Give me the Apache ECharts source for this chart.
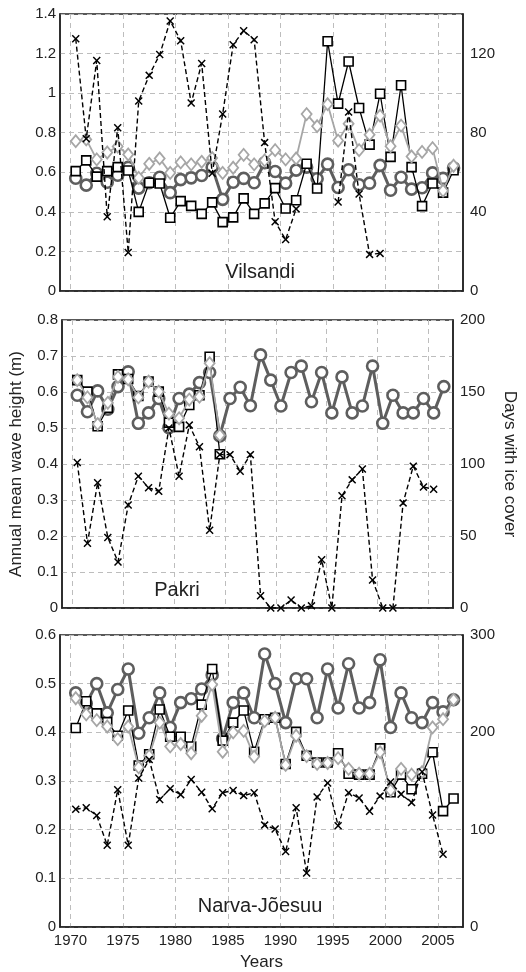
<!DOCTYPE html>
<html>
<head>
<meta charset="utf-8">
<script src="https://cdn.jsdelivr.net/npm/echarts@6/dist/echarts.min.js"></script>
<style>
html,body{margin:0;padding:0;background:#fff;}
#chart{width:526px;height:972px;}
</style>
</head>
<body>
<div id="chart"></div>
<script>
// ---------- data ----------
var years = [1970,1971,1972,1973,1974,1975,1976,1977,1978,1979,1980,1981,1982,1983,1984,1985,1986,1987,1988,1989,1990,1991,1992,1993,1994,1995,1996,1997,1998,1999,2000,2001,2002,2003,2004,2005,2006];
var yearTicks = [1970,1975,1980,1985,1990,1995,2000,2005];

var stationNames = ["Vilsandi","Pakri","Narva-Jõesuu"];

// Vilsandi
var vilCircle  = [0.57,0.535,0.595,0.55,0.585,0.625,0.52,0.547,0.575,0.497,0.563,0.572,0.584,0.626,0.463,0.55,0.569,0.547,0.648,0.604,0.545,0.611,0.626,0.567,0.641,0.523,0.613,0.537,0.545,0.635,0.509,0.575,0.515,0.522,0.597,0.569,0.622];
var vilSquare  = [0.606,0.66,0.578,0.606,0.626,0.609,0.40,0.547,0.543,0.37,0.454,0.43,0.39,0.448,0.348,0.372,0.468,0.39,0.443,0.52,0.417,0.459,0.643,0.518,1.262,0.947,1.16,0.925,0.74,0.997,0.678,1.04,0.626,0.429,0.543,0.497,0.61];
var vilDiamond = [0.757,0.766,0.665,0.70,0.73,0.69,0.572,0.643,0.67,0.597,0.65,0.64,0.653,0.672,0.597,0.623,0.688,0.64,0.66,0.712,0.665,0.67,0.894,0.833,0.944,0.76,0.845,0.712,0.79,0.886,0.732,0.836,0.68,0.703,0.722,0.507,0.633];
var vilIce     = [127.5,77,116.5,37.5,82.5,19.5,96,109,119.5,136.5,126.5,95,115,59.5,89.5,124.5,131.5,127,75,35,26,41.5,null,null,null,45,90.5,49,18.5,19,null,null,null,null,null,null,null];

// Pakri
var pakCircle  = [0.591,0.545,0.603,0.552,0.615,0.656,0.513,0.542,0.582,0.501,0.582,0.594,0.626,0.654,0.478,0.582,0.613,0.562,0.703,0.633,0.561,0.654,0.672,0.573,0.654,0.542,0.642,0.542,0.561,0.672,0.513,0.591,0.542,0.542,0.582,0.542,0.615];
var pakSquare  = [0.633,0.601,0.505,0.556,0.649,0.636,0.589,0.629,0.601,0.515,0.503,0.564,0.591,0.698,0.427,null,null,null,null,null,null,null,null,null,null,null,null,null,null,null,null,null,null,null,null,null,null];
var pakDiamond = [0.633,0.585,0.511,0.57,0.642,0.635,0.585,0.629,0.601,0.54,0.527,0.579,0.587,0.68,0.48,null,null,null,null,null,null,null,null,null,null,null,null,null,null,null,null,null,null,null,null,null,null];
var pakIce     = [101,45,87,49,32,71.5,91.5,83.5,81,125,91.5,127,112,54,106.5,106.5,95,106.5,8.5,0,0,5.5,0,1.5,33.5,0,78,89,96.5,19.5,0,0,73,98.5,84,82.5,null];

// Narva-Jõesuu
var narCircle  = [0.481,0.459,0.5,0.44,0.488,0.53,0.398,0.43,0.481,0.41,0.461,0.469,0.489,0.518,0.387,0.461,0.481,0.43,0.561,0.5,0.42,0.51,0.51,0.43,0.53,0.45,0.541,0.45,0.461,0.549,0.41,0.481,0.43,0.42,0.461,0.442,0.467];
var narSquare  = [0.409,0.464,0.439,0.421,0.393,0.445,0.332,0.355,0.447,0.391,0.391,0.371,0.457,0.53,0.383,0.42,0.445,0.36,0.427,0.43,0.335,0.401,0.352,0.338,0.338,0.357,0.315,0.313,0.313,0.367,0.277,0.313,0.283,0.315,0.359,0.238,0.264];
var narDiamond = [0.47,0.437,0.425,0.412,0.386,0.412,0.328,0.352,0.42,0.371,0.376,0.357,0.434,0.498,0.36,0.4,0.403,0.35,0.423,0.43,0.333,0.393,0.351,0.335,0.337,0.347,0.325,0.315,0.315,0.359,0.281,0.325,0.313,0.318,0.41,0.427,0.467];
var narIce     = [121,122.5,114.5,84,141,84,153,172,131,142,136,151.5,138.5,121.5,138,140.3,135,138,104.7,100.6,77.5,122.5,55.4,133.5,148,104,138,132.5,119,134.5,149,136.5,127.8,159.5,115,74.8,null];

// axis ranges per panel
var leftMax   = [1.4, 0.8, 0.6];
var leftStep  = [0.2, 0.1, 0.1];
var rightMax  = [140, 200, 300];
var rightStep = [40, 50, 100];

// ---------- layout & styles ----------
var FONT = '"Liberation Sans", Arial, sans-serif';
var grids = [
  {left:60, top:14,  width:403, height:277},
  {left:60, top:320, width:403, height:288},
  {left:60, top:635, width:403, height:294}
];
var labelPos = [[260,272],[177,590],[260,906]];

var CIRCLE_C = '#5e5e5e';
var DIAMOND_C = '#a6a6a6';
var XSYM = 'path://M0,1.3L1.3,0L5,3.7L8.7,0L10,1.3L6.3,5L10,8.7L8.7,10L5,6.3L1.3,10L0,8.7L3.7,5Z';

function pts(arr){ return years.map(function(y,i){ return [y+0.5, arr[i]]; }); }

var panels = [
  [vilCircle, vilDiamond, vilSquare, vilIce],
  [pakCircle, pakDiamond, pakSquare, pakIce],
  [narCircle, narDiamond, narSquare, narIce]
];

var xAxes = [], yAxes = [], series = [], graphics = [];
for (var p = 0; p < 3; p++) {
  var last = (p === 2);
  xAxes.push({
    type:'value', gridIndex:p, min:1969, max:2007.4,
    axisLine:{show:true, onZero:false, lineStyle:{color:'#222', width:1.5}},
    axisTick:{show:false, customValues:yearTicks},
    axisLabel:{show:last, customValues:yearTicks, color:'#222', fontSize:15, fontFamily:FONT, margin:6,
               formatter:function(v){ return String(v); }},
    splitLine:{show:true, lineStyle:{color:'#bdbdbd', type:[5,4], width:1}},
    name: last ? 'Years' : '', nameLocation:'middle', nameGap:27,
    nameTextStyle:{color:'#222', fontSize:17, fontFamily:FONT}
  });
  (function(pp){
    yAxes.push({
      type:'value', gridIndex:pp, position:'left', min:0, max:leftMax[pp], interval:leftStep[pp],
      axisLine:{show:true, lineStyle:{color:'#222', width:1.5}},
      axisTick:{show:false},
      axisLabel:{color:'#222', fontSize:15, fontFamily:FONT, margin:4},
      splitLine:{show:true, lineStyle:{color:'#bdbdbd', type:[5,4], width:1}},
      name: pp === 1 ? 'Annual mean wave height (m)' : '', nameLocation:'middle', nameGap:37,
      nameTextStyle:{color:'#222', fontSize:17, fontFamily:FONT}
    });
    yAxes.push({
      type:'value', gridIndex:pp, position:'right', min:0, max:rightMax[pp], interval:rightStep[pp],
      axisLine:{show:true, lineStyle:{color:'#222', width:1.5}},
      axisTick:{show:false},
      axisLabel:{color:'#222', fontSize:15, fontFamily:FONT, margin:7,
                 formatter:function(v){ return (v % rightStep[pp] === 0) ? String(v) : ''; }},
      splitLine:{show:false},
      name: pp === 1 ? 'Days with ice cover' : '', nameLocation:'middle', nameGap:48, nameRotate:-90,
      nameTextStyle:{color:'#222', fontSize:17, fontFamily:FONT}
    });
  })(p);

  var d = panels[p];
  // circles
  series.push({
    type:'line', xAxisIndex:p, yAxisIndex:2*p, data:pts(d[0]), symbol:'circle', symbolSize:11,
    lineStyle:{color:CIRCLE_C, width:3}, itemStyle:{color:'#fff', borderColor:CIRCLE_C, borderWidth:2.6},
    z:2, animation:false, connectNulls:false
  });
  // squares
  series.push({
    type:'line', xAxisIndex:p, yAxisIndex:2*p, data:pts(d[2]), symbol:'rect', symbolSize:9,
    lineStyle:{color:'#000', width:1.3}, itemStyle:{color:'#fff', borderColor:'#000', borderWidth:1.6},
    z:3, animation:false, connectNulls:false
  });
  // diamonds
  series.push({
    type:'line', xAxisIndex:p, yAxisIndex:2*p, data:pts(d[1]), symbol:'diamond', symbolSize:[10,12],
    lineStyle:{color:DIAMOND_C, width:1.8}, itemStyle:{color:'#fff', borderColor:DIAMOND_C, borderWidth:1.8},
    z:4, animation:false, connectNulls:false
  });
  // ice days
  series.push({
    type:'line', xAxisIndex:p, yAxisIndex:2*p+1, data:pts(d[3]), symbol:XSYM, symbolSize:8,
    lineStyle:{color:'#000', width:1.4, type:[5,3]}, itemStyle:{color:'#000'},
    z:5, animation:false, connectNulls:false
  });

  graphics.push({
    type:'text', x:labelPos[p][0], y:labelPos[p][1], z:100,
    style:{text:stationNames[p], fill:'#222', font:'20px ' + FONT, align:'center', verticalAlign:'middle'}
  });
}

var gridOpts = grids.map(function(g){
  return {left:g.left, top:g.top, width:g.width, height:g.height, show:true, borderColor:'#222', borderWidth:1.5, containLabel:false};
});

var chart = echarts.init(document.getElementById('chart'), null, {renderer:'canvas'});
chart.setOption({
  backgroundColor:'#fff',
  animation:false,
  grid:gridOpts,
  xAxis:xAxes,
  yAxis:yAxes,
  series:series,
  graphic:graphics
});
</script>
</body>
</html>
